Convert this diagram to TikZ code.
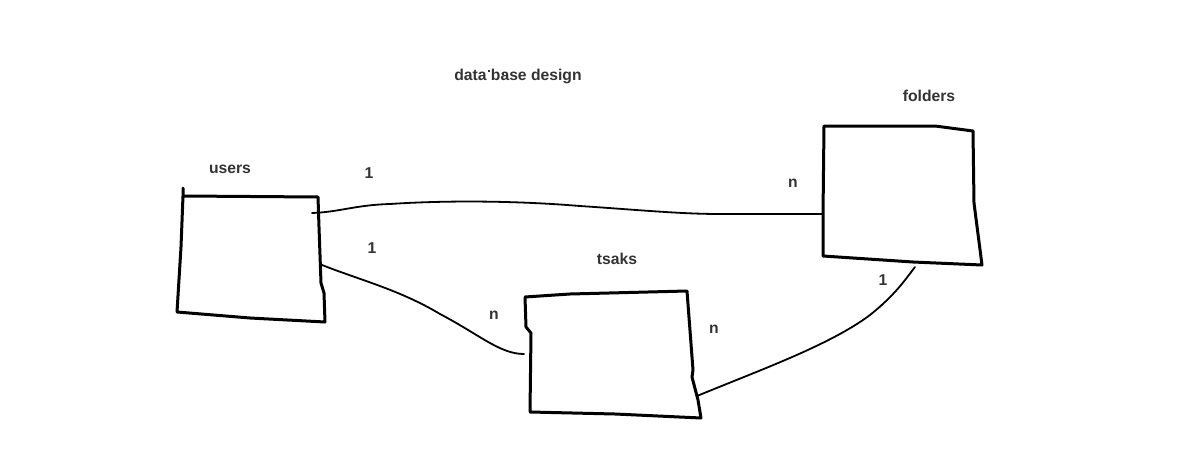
\documentclass[tikz,border=0pt]{standalone}
\usepackage{fontspec}
\setmainfont{Liberation Sans}
\begin{document}
\begin{tikzpicture}[x=1pt,y=-1pt,
  box/.style={line width=3pt, line join=round, line cap=round},
  conn/.style={line width=1.8pt, line cap=round},
  lbl/.style={font=\fontsize{15.7}{18}\selectfont\bfseries, text=black!80, inner sep=0pt}]
\useasboundingbox (0,0) rectangle (1203,463);
\fill[white] (0,0) rectangle (1203,463);

% boxes
\draw[box] (183,188) -- (183,196) -- (318,197) -- (319,227) -- (321,283) -- (324,293) -- (325,322) -- (250,318) -- (177,312) -- (181,247) -- (183,196);
\draw[box] (824,126) -- (935,126) -- (973,131) -- (974,203) -- (982,265) -- (913,262) -- (823,256) -- (823,215) -- cycle;
\draw[box] (525,297) -- (570,294) -- (687,291) -- (693,370) -- (692,377) -- (698,400) -- (701,418) -- (615,414) -- (530,412) -- (531,333) -- (526,327) -- cycle;

% attachment points
\coordinate (u1) at (312,213);
\coordinate (f1) at (822,214);
\coordinate (u2) at (322,265);
\coordinate (t1) at (524,354);
\coordinate (t2) at (697,396);
\coordinate (f2) at (915,267);

% connectors
\draw[conn] (u1) .. controls (340,212) and (355,205) .. (390,204) .. controls (450,200) and (520,201) .. (580,206) .. controls (640,210) and (680,214) .. (720,214) -- (f1);
\draw[conn] (u2) .. controls (360,280) and (400,290) .. (440,314) .. controls (480,335) and (500,354) .. (t1);
\draw[conn] (t2) .. controls (760,370) and (830,345) .. (870,315) .. controls (895,295) and (905,280) .. (f2);

% labels
\node[lbl] (title) at (518,76.5) {data base design};
\fill[black!80] (488,69.5) rectangle (490,71.5);
\fill[black!80] (502,72.5) rectangle (504,74.5);
\node[lbl] (users) at (230,169) {users};
\node[lbl] (folders) at (929,96) {folders};
\node[lbl] (tsaks) at (617,259) {tsaks};
\node[lbl] (l1) at (369,173) {1};
\node[lbl] (l2) at (793,183) {n};
\node[lbl] (l3) at (372,248) {1};
\node[lbl] (l4) at (494,315) {n};
\node[lbl] (l5) at (714,329) {n};
\node[lbl] (l6) at (883,280) {1};
\end{tikzpicture}
\end{document}
